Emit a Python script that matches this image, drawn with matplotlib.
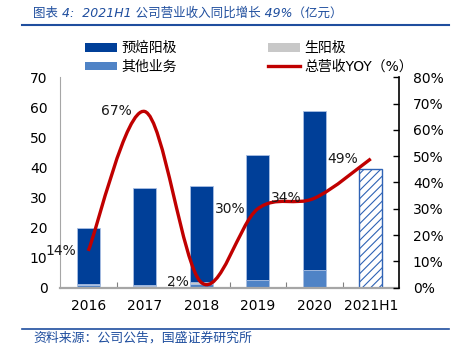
import matplotlib
matplotlib.use('Agg')
import matplotlib.pyplot as plt
from matplotlib.path import Path
from matplotlib.patches import PathPatch, Patch
from matplotlib.lines import Line2D
from matplotlib.ticker import FuncFormatter
import numpy as np

plt.rcParams['font.family'] = ['DejaVu Sans', 'Noto Sans CJK SC']
plt.rcParams['hatch.linewidth'] = 0.8

# ---------------- data ----------------
categories = ['2016', '2017', '2018', '2019', '2020', '2021H1']
prebaked = [18.5, 32.4, 32.0, 41.3, 52.8]      # 预焙阳极
raw_anode = [0.5, 0.1, 0.7, 0.0, 0.0]          # 生阳极
other = [0.8, 0.7, 1.1, 2.7, 6.0]              # 其他业务
h1_total = [39.6]                              # 2021H1 总营收
yoy = [14, 67, 2, 30, 34, 49]                  # 总营收YOY（%）
yoy_labels = ['14%', '67%', '2%', '30%', '34%', '49%']
legend_labels = ['预焙阳极', '其他业务', '生阳极', '总营收YOY（%）']
title = '图表 4:  2021H1 公司营业收入同比增长 49%（亿元）'
source = '资料来源：公司公告，国盛证券研究所'

# ---------------- style ----------------
c_dark = '#003F98'
c_light = '#4F83C6'
c_grey = '#C8C8C8'
c_red = '#C00000'
c_hatch = '#2F63B5'
c_text_blue = '#1F4E9E'
edge = '#A9BFE3'

W, H = 459, 357
fig = plt.figure(figsize=(W / 100, H / 100), dpi=100)
ax = fig.add_axes([60 / W, (H - 287.7) / H, 339 / W, 210.4 / H])

x = np.arange(len(prebaked))
bw = 0.41
other_a = np.array(other)
raw_a = np.array(raw_anode)
pre_a = np.array(prebaked)
ax.bar(x, other_a, bw, color=c_light, edgecolor=edge, linewidth=0.6, zorder=2)
ax.bar(x, raw_a, bw, bottom=other_a, color=c_grey, edgecolor=edge, linewidth=0.6, zorder=2)
ax.bar(x, pre_a, bw, bottom=other_a + raw_a, color=c_dark, edgecolor=edge, linewidth=0.6, zorder=2)
ax.bar([len(prebaked)], h1_total, bw, facecolor='white', edgecolor=c_hatch,
       hatch='////', linewidth=1.0, zorder=2)

ax.set_xlim(-0.5, 5.5)
ax.set_ylim(0, 70)
ax.set_yticks(range(0, 71, 10))
ax.set_xticks(range(len(categories)))
ax.set_xticklabels(categories)
ax.set_xticks([0.5, 1.5, 2.5, 3.5, 4.5], minor=True)
ax.tick_params(axis='y', length=0, pad=9, labelsize=10, colors='black')
ax.tick_params(axis='x', which='major', length=0, pad=8, labelsize=10)
ax.tick_params(axis='x', which='minor', direction='in', length=4, width=0.8, color='#808080')
for s in ['top', 'right']:
    ax.spines[s].set_visible(False)
ax.spines['left'].set_color('#A6A6A6')
ax.spines['left'].set_linewidth(0.8)
ax.spines['bottom'].set_color('#A6A6A6')
ax.spines['bottom'].set_linewidth(1.6)

# ---------------- line on secondary axis ----------------
ax2 = ax.twinx()
ax2.set_ylim(0, 80)
ax2.set_yticks(range(0, 81, 10))
ax2.yaxis.set_major_formatter(FuncFormatter(lambda v, p: f'{int(v)}%'))
ax2.tick_params(axis='y', direction='in', length=4, width=1, color='black', pad=10, labelsize=10)
for s in ['top', 'left', 'bottom']:
    ax2.spines[s].set_visible(False)
ax2.spines['right'].set_color('black')
ax2.spines['right'].set_linewidth(1.2)

pts = np.column_stack([np.arange(len(yoy)), np.array(yoy, dtype=float)])
n = len(pts)
verts = [tuple(pts[0])]
codes = [Path.MOVETO]
for i in range(n - 1):
    p0 = pts[max(i - 1, 0)]
    p1 = pts[i]
    p2 = pts[i + 1]
    p3 = pts[min(i + 2, n - 1)]
    c1 = p1 + (p2 - p0) / 6.0
    c2 = p2 - (p3 - p1) / 6.0
    verts += [tuple(c1), tuple(c2), tuple(p2)]
    codes += [Path.CURVE4] * 3
ax2.add_patch(PathPatch(Path(verts, codes), facecolor='none', edgecolor=c_red,
                        linewidth=2.4, capstyle='butt', zorder=3))

for i, (v, lbl) in enumerate(zip(yoy, yoy_labels)):
    ax2.annotate(lbl, (i, v), xytext=(-9, 0), textcoords='offset points',
                 ha='right', va='center', fontsize=10, color='#1a1a1a', zorder=4)

# ---------------- legend ----------------
handles = [Patch(facecolor=c_dark), Patch(facecolor=c_light),
           Patch(facecolor=c_grey), Line2D([], [], color=c_red, lw=2.4)]
fig.legend(handles, legend_labels, ncol=2, loc='upper left',
           bbox_to_anchor=(85 / W, 1 - 41 / H), frameon=False, fontsize=10,
           handlelength=2.3, handleheight=0.6, handletextpad=0.3,
           columnspacing=6.6, labelspacing=0.35, borderpad=0, borderaxespad=0)

# ---------------- title / source ----------------
fig.text(33 / W, 1 - 13 / H, title, color=c_text_blue, fontsize=9,
         style='italic', va='center', ha='left')
fig.add_artist(Line2D([22 / W, 449 / W], [1 - 25 / H] * 2, color=c_text_blue, lw=1.5))
fig.add_artist(Line2D([22 / W, 449 / W], [1 - 329.3 / H] * 2, color=c_text_blue, lw=1.2))
fig.text(33 / W, 1 - 338 / H, source, color=c_text_blue, fontsize=9.3,
         style='italic', va='center', ha='left')

fig.savefig('out.png', dpi=100)
